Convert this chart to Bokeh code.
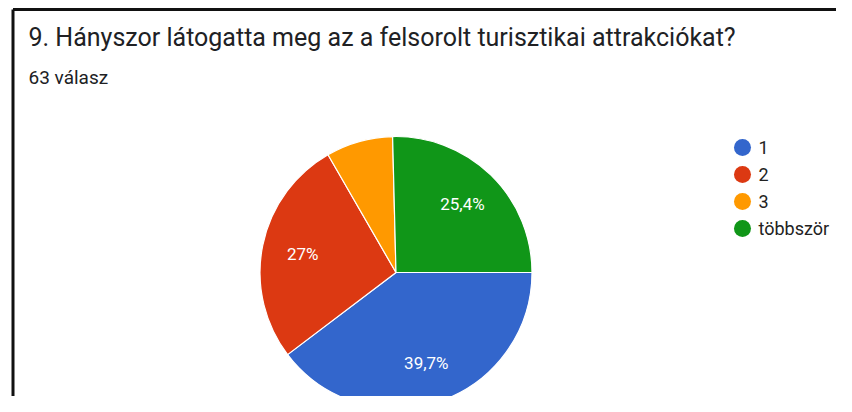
import math
from bokeh.plotting import figure
from bokeh.models import Range1d, ColumnDataSource
from bokeh.core.properties import value
from bokeh.embed import file_html
from bokeh.resources import INLINE

# ---- data ----
title_text = "9. Hányszor látogatta meg az a felsorolt turisztikai attrakciókat?"
subtitle_text = "63 válasz"
categories = ["1", "2", "3", "többször"]
counts = [25, 17, 5, 16]
colors = ["#3366CC", "#DC3912", "#FF9900", "#109618"]

# ---- layout (figure pixel coordinates, y measured downward) ----
W, H = 836, 396


def Y(py):
    return H - py


CX, CY, R = 395.5, Y(272), 136
LABEL_R = 0.7 * R
FONT = value("Roboto")

p = figure(width=W, height=H, x_range=Range1d(0, W), y_range=Range1d(0, H),
           output_backend="svg", toolbar_location=None, min_border=0,
           x_axis_type=None, y_axis_type=None)
p.grid.visible = False
p.outline_line_color = None
p.background_fill_color = "white"
p.border_fill_color = "white"

# ---- pie ----
total = sum(counts)
starts, ends, lx, ly, labels = [], [], [], [], []
cum = 0.0
for c in counts:
    f = c / total
    a0 = -2 * math.pi * cum
    a1 = -2 * math.pi * (cum + f)
    starts.append(a0)
    ends.append(a1)
    mid = (a0 + a1) / 2
    lx.append(CX + LABEL_R * math.cos(mid))
    ly.append(CY + LABEL_R * math.sin(mid))
    pct = f * 100
    if pct >= 10:
        s = f"{pct:.1f}".replace(".", ",")
        if s.endswith(",0"):
            s = s[:-2]
        labels.append(s + "%")
    else:
        labels.append("")
    cum += f

src = ColumnDataSource(dict(cat=categories, start=starts, end=ends,
                            color=colors, lx=lx, ly=ly, label=labels))
p.wedge(x=CX, y=CY, radius=R, start_angle="start", end_angle="end",
        direction="clock", fill_color="color", line_color="white",
        line_width=1.2, source=src)
p.text(x="lx", y="ly", text="label", source=src, text_color="white",
       text_font=FONT, text_font_size="17px", text_align="center",
       text_baseline="middle")

# ---- title ----
p.text(x=[28], y=[Y(37)], text=[title_text], text_font=FONT,
       text_font_size="25px", text_color="#202124",
       text_baseline="alphabetic", text_align="left")
p.text(x=[28], y=[Y(77)], text=[subtitle_text], text_font=FONT,
       text_font_size="19px", text_color="#202124",
       text_baseline="alphabetic", text_align="left")

# ---- legend ----
leg_x = 742
leg_y = [Y(147 + 27 * i) for i in range(len(categories))]
p.scatter(x=[leg_x] * len(categories), y=leg_y, size=17, marker="circle",
          fill_color=colors, line_color=None)
p.text(x=[leg_x + 16] * len(categories), y=leg_y, text=categories,
       text_font=FONT, text_font_size="18px", text_color="#222222",
       text_baseline="middle", text_align="left")

# ---- screenshot frame ----
p.segment(x0=[12.5, 12.5], y0=[Y(9), Y(9)], x1=[12.5, W], y1=[Y(H + 10), Y(9)],
          line_color="#111111", line_width=3)

open("out.html", "w").write(file_html(p, INLINE))
